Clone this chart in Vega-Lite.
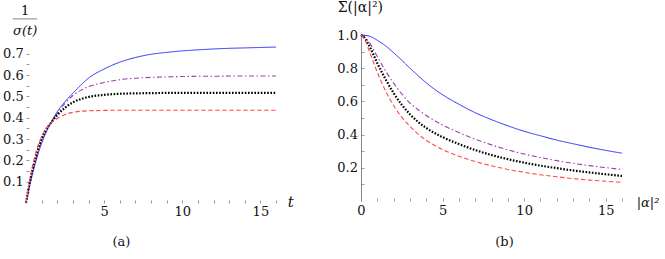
{
  "$schema": "https://vega.github.io/schema/vega-lite/v6.json",
  "padding": {"left": 2, "top": 1, "right": 5, "bottom": 5},
  "background": "white",
  "spacing": 85,
  "bounds": "flush",
  "config": {
    "view": {"stroke": null},
    "font": "DejaVu Serif",
    "axis": {"labelOverlap": false, "labelFlush": false, "labelFont": "DejaVu Serif", "titleFont": "DejaVu Serif", "grid": false, "tickCount": 100},
    "text": {"font": "DejaVu Serif"}
  },
  "hconcat": [
    {
      "width": 250,
      "height": 168,
      "layer": [
        {
          "data": {"values": [
            {"t": 0, "blue": 0, "purple": 0, "black": 0, "red": 0},
            {"t": 0.25, "blue": 0.085, "purple": 0.095, "black": 0.1, "red": 0.115},
            {"t": 0.5, "blue": 0.16, "purple": 0.17, "black": 0.18, "red": 0.2},
            {"t": 0.75, "blue": 0.225, "purple": 0.235, "black": 0.245, "red": 0.265},
            {"t": 1, "blue": 0.28, "purple": 0.29, "black": 0.3, "red": 0.312},
            {"t": 1.25, "blue": 0.325, "purple": 0.33, "black": 0.34, "red": 0.345},
            {"t": 1.5, "blue": 0.362, "purple": 0.363, "black": 0.367, "red": 0.367},
            {"t": 2, "blue": 0.428, "purple": 0.42, "black": 0.412, "red": 0.396},
            {"t": 2.5, "blue": 0.475, "purple": 0.468, "black": 0.447, "red": 0.415},
            {"t": 3, "blue": 0.515, "purple": 0.504, "black": 0.472, "red": 0.425},
            {"t": 3.5, "blue": 0.552, "purple": 0.528, "black": 0.487, "red": 0.43},
            {"t": 4, "blue": 0.585, "purple": 0.545, "black": 0.497, "red": 0.432},
            {"t": 5, "blue": 0.628, "purple": 0.565, "black": 0.507, "red": 0.434},
            {"t": 6, "blue": 0.66, "purple": 0.578, "black": 0.512, "red": 0.435},
            {"t": 7, "blue": 0.682, "purple": 0.585, "black": 0.514, "red": 0.435},
            {"t": 8, "blue": 0.697, "purple": 0.589, "black": 0.515, "red": 0.435},
            {"t": 9, "blue": 0.706, "purple": 0.591, "black": 0.516, "red": 0.435},
            {"t": 10, "blue": 0.713, "purple": 0.593, "black": 0.516, "red": 0.435},
            {"t": 11, "blue": 0.718, "purple": 0.594, "black": 0.516, "red": 0.435},
            {"t": 12, "blue": 0.722, "purple": 0.594, "black": 0.516, "red": 0.435},
            {"t": 13, "blue": 0.725, "purple": 0.595, "black": 0.516, "red": 0.435},
            {"t": 14, "blue": 0.727, "purple": 0.595, "black": 0.516, "red": 0.435},
            {"t": 15, "blue": 0.729, "purple": 0.595, "black": 0.516, "red": 0.435},
            {"t": 16, "blue": 0.731, "purple": 0.595, "black": 0.516, "red": 0.435}
          ]},
          "transform": [{"fold": ["blue", "purple", "black", "red"], "as": ["s", "v"]}],
          "mark": {"type": "line", "interpolate": "monotone"},
          "encoding": {
            "x": {
              "field": "t", "type": "quantitative",
              "scale": {"domain": [0, 16], "nice": false, "zero": false},
              "axis": {
                "values": [1, 2, 3, 4, 5, 6, 7, 8, 9, 10, 11, 12, 13, 14, 15, 16],
                "tickCount": 100,
                "labelExpr": "datum.value % 5 == 0 ? datum.label : ''",
                "format": "d",
                "labelOverlap": false, "labelFlush": false,
                "domain": false, "grid": false,
                "tickSize": -3, "tickColor": "#9a9a9a",
                "labelPadding": 15, "labelBaseline": "alphabetic",
                "labelFontSize": 13, "labelColor": "#111",
                "title": "(a)", "titleFontSize": 13,
                "titleFontWeight": "normal", "titleColor": "#111",
                "titleX": 95, "titleY": 38, "titleBaseline": "middle", "titleAlign": "center"
              }
            },
            "y": {
              "field": "v", "type": "quantitative",
              "scale": {"domain": [0, 0.7875], "nice": false},
              "axis": {
                "values": [0.05, 0.1, 0.15, 0.2, 0.25, 0.3, 0.35, 0.4, 0.45, 0.5, 0.55, 0.6, 0.65, 0.7],
                "tickCount": 100,
                "labelExpr": "abs(datum.value*10 - round(datum.value*10)) < 0.001 ? format(datum.value, '.1f') : ''",
                "labelOverlap": false, "labelFlush": false,
                "domain": false, "grid": false,
                "tickSize": -3, "tickColor": "#9a9a9a",
                "labelPadding": 5.7, "labelBaseline": "middle",
                "labelFontSize": 13, "labelColor": "#111",
                "title": null
              }
            },
            "color": {"field": "s", "type": "nominal", "legend": null,
              "scale": {"domain": ["blue", "purple", "black", "red"], "range": ["#2a2aff", "#9c3fb0", "#000000", "#ff4a4a"]}},
            "strokeDash": {"field": "s", "type": "nominal", "legend": null,
              "scale": {"domain": ["blue", "purple", "black", "red"], "range": [[1, 0], [5, 2.5, 1.5, 2.5], [1.6, 1.6], [4.5, 2.5]]}},
            "strokeWidth": {"field": "s", "type": "nominal", "legend": null,
              "scale": {"type": "ordinal", "domain": ["blue", "purple", "black", "red"], "range": [1, 1.1, 2.2, 1.1]}}
          }
        },
        {
          "data": {"values": [{}]},
          "mark": {"type": "text", "text": "t", "fontStyle": "italic", "fontSize": 15, "baseline": "middle", "align": "center", "color": "#111"},
          "encoding": {"x": {"datum": 16.95}, "y": {"datum": 0.005}}
        },
        {
          "data": {"values": [{}]},
          "mark": {"type": "text", "text": "1", "fontSize": 13, "baseline": "middle", "align": "center", "color": "#111"},
          "encoding": {"x": {"datum": -0.05}, "y": {"datum": 0.9}}
        },
        {
          "data": {"values": [{}]},
          "mark": {"type": "text", "text": "σ(t)", "fontStyle": "italic", "fontSize": 13, "baseline": "middle", "align": "center", "color": "#111"},
          "encoding": {"x": {"datum": -0.05}, "y": {"datum": 0.805}}
        },
        {
          "data": {"values": [{}]},
          "mark": {"type": "rule", "color": "#777", "strokeWidth": 0.9},
          "encoding": {"x": {"datum": -0.85}, "x2": {"datum": 0.72}, "y": {"datum": 0.863}}
        }
      ]
    },
    {
      "width": 261,
      "height": 166,
      "layer": [
        {
          "data": {"values": [
            {"a": 0, "blue": 1, "purple": 1, "black": 1, "red": 1},
            {"a": 0.25, "blue": 0.998, "purple": 0.985, "black": 0.978, "red": 0.968},
            {"a": 0.5, "blue": 0.993, "purple": 0.955, "black": 0.935, "red": 0.905},
            {"a": 0.75, "blue": 0.983, "purple": 0.915, "black": 0.885, "red": 0.84},
            {"a": 1, "blue": 0.968, "purple": 0.87, "black": 0.83, "red": 0.775},
            {"a": 1.5, "blue": 0.935, "purple": 0.785, "black": 0.735, "red": 0.665},
            {"a": 2, "blue": 0.893, "purple": 0.71, "black": 0.65, "red": 0.575},
            {"a": 2.5, "blue": 0.848, "purple": 0.645, "black": 0.58, "red": 0.505},
            {"a": 3, "blue": 0.8, "purple": 0.59, "black": 0.522, "red": 0.45},
            {"a": 3.5, "blue": 0.755, "purple": 0.55, "black": 0.477, "red": 0.403},
            {"a": 4, "blue": 0.712, "purple": 0.515, "black": 0.44, "red": 0.366},
            {"a": 5, "blue": 0.64, "purple": 0.458, "black": 0.385, "red": 0.31},
            {"a": 6, "blue": 0.583, "purple": 0.412, "black": 0.343, "red": 0.27},
            {"a": 7, "blue": 0.532, "purple": 0.372, "black": 0.307, "red": 0.238},
            {"a": 8, "blue": 0.49, "purple": 0.338, "black": 0.277, "red": 0.212},
            {"a": 9, "blue": 0.453, "purple": 0.308, "black": 0.252, "red": 0.19},
            {"a": 10, "blue": 0.42, "purple": 0.283, "black": 0.231, "red": 0.173},
            {"a": 11, "blue": 0.393, "purple": 0.262, "black": 0.213, "red": 0.158},
            {"a": 12, "blue": 0.367, "purple": 0.243, "black": 0.198, "red": 0.146},
            {"a": 13, "blue": 0.345, "purple": 0.227, "black": 0.184, "red": 0.135},
            {"a": 14, "blue": 0.324, "purple": 0.213, "black": 0.172, "red": 0.126},
            {"a": 15, "blue": 0.305, "purple": 0.201, "black": 0.161, "red": 0.119},
            {"a": 16, "blue": 0.288, "purple": 0.19, "black": 0.151, "red": 0.112}
          ]},
          "transform": [{"fold": ["blue", "purple", "black", "red"], "as": ["s", "v"]}],
          "mark": {"type": "line", "interpolate": "monotone"},
          "encoding": {
            "x": {
              "field": "a", "type": "quantitative",
              "scale": {"domain": [0, 16], "nice": false, "zero": false},
              "axis": {
                "values": [0, 1, 2, 3, 4, 5, 6, 7, 8, 9, 10, 11, 12, 13, 14, 15, 16],
                "tickCount": 100,
                "labelExpr": "datum.value % 5 == 0 ? datum.label : ''",
                "format": "d",
                "labelOverlap": false, "labelFlush": false,
                "domain": false, "grid": false,
                "tickSize": -3, "tickColor": "#9a9a9a",
                "labelPadding": 16.5, "labelBaseline": "alphabetic",
                "labelFontSize": 13, "labelColor": "#111",
                "title": "(b)", "titleFontSize": 13,
                "titleFontWeight": "normal", "titleColor": "#111",
                "titleX": 143, "titleY": 40, "titleBaseline": "middle", "titleAlign": "center"
              }
            },
            "y": {
              "field": "v", "type": "quantitative",
              "scale": {"domain": [0, 1], "nice": false},
              "axis": {
                "values": [0.1, 0.2, 0.3, 0.4, 0.5, 0.6, 0.7, 0.8, 0.9, 1.0],
                "tickCount": 100,
                "labelExpr": "abs(datum.value*5 - round(datum.value*5)) < 0.001 ? format(datum.value, '.1f') : ''",
                "labelOverlap": false, "labelFlush": false,
                "domain": true, "domainColor": "#8a8a8a", "domainWidth": 1, "grid": false,
                "tickSize": -3, "tickColor": "#9a9a9a",
                "labelPadding": 6.5, "labelBaseline": "middle",
                "labelFontSize": 13, "labelColor": "#111",
                "title": null
              }
            },
            "color": {"field": "s", "type": "nominal", "legend": null,
              "scale": {"domain": ["blue", "purple", "black", "red"], "range": ["#2a2aff", "#9c3fb0", "#000000", "#ff4a4a"]}},
            "strokeDash": {"field": "s", "type": "nominal", "legend": null,
              "scale": {"domain": ["blue", "purple", "black", "red"], "range": [[1, 0], [5, 2.5, 1.5, 2.5], [1.6, 1.6], [4.5, 2.5]]}},
            "strokeWidth": {"field": "s", "type": "nominal", "legend": null,
              "scale": {"type": "ordinal", "domain": ["blue", "purple", "black", "red"], "range": [1, 1.1, 2.2, 1.1]}}
          }
        },
        {
          "data": {"values": [{}]},
          "mark": {"type": "text", "text": "|α|²", "fontStyle": "italic", "fontSize": 13, "baseline": "middle", "align": "left", "color": "#111"},
          "encoding": {"x": {"datum": 16.9}, "y": {"datum": -0.01}}
        },
        {
          "data": {"values": [{}]},
          "mark": {"type": "text", "text": "Σ(|α|²)", "fontSize": 14, "baseline": "middle", "align": "center", "color": "#111"},
          "encoding": {"x": {"datum": -0.04}, "y": {"datum": 1.16}}
        }
      ]
    }
  ]
}
